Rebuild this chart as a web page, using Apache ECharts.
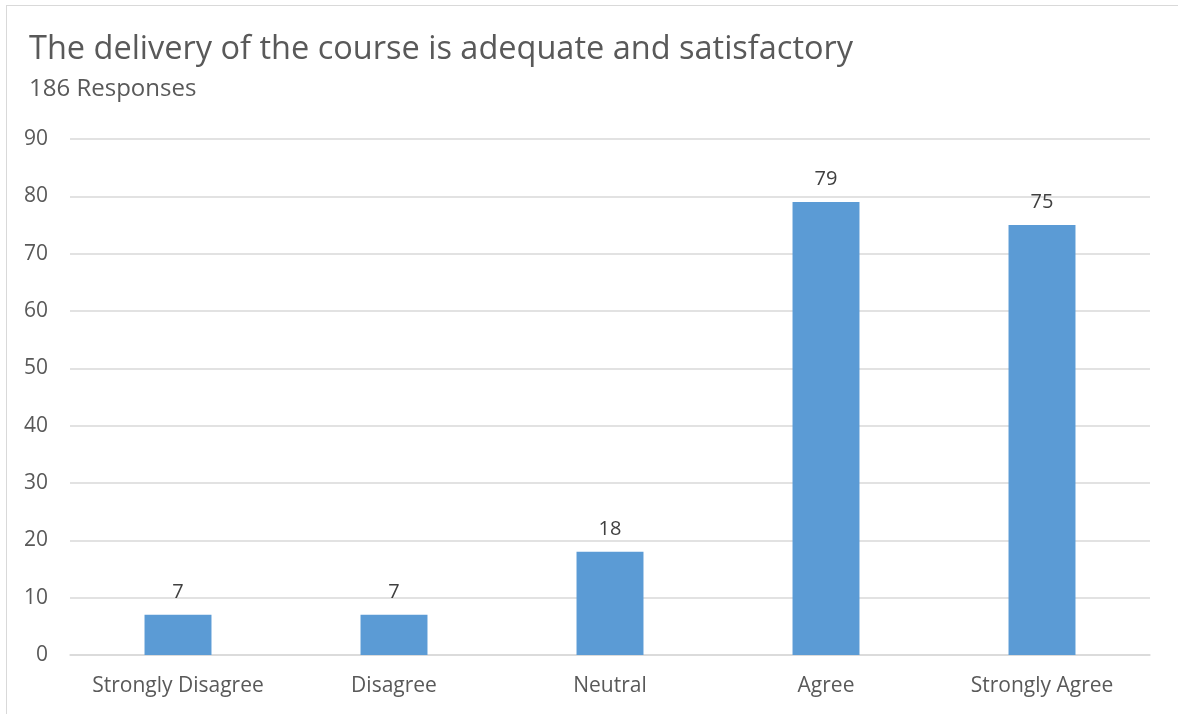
<!DOCTYPE html>
<html><head><meta charset="utf-8">
<script src="https://cdn.jsdelivr.net/npm/echarts@6/dist/echarts.min.js"></script>
<style>
html,body{margin:0;padding:0;background:#fff;}
#frame{position:absolute;left:6px;top:5px;width:1190px;height:720px;border:1px solid #d9d9d9;box-sizing:border-box;}
#c{position:absolute;left:0;top:0;width:1178px;height:714px;}
</style></head>
<body>
<div id="frame"></div>
<div id="c"></div>
<script>
const categories = ['Strongly Disagree', 'Disagree', 'Neutral', 'Agree', 'Strongly Agree'];
const values = [7, 7, 18, 79, 75];
const titleText = 'The delivery of the course is adequate and satisfactory';
const subtitleText = '186 Responses';

const chart = echarts.init(document.getElementById('c'));
const font = 'Open Sans';
chart.setOption({
  animation: false,
  title: [{
    text: titleText,
    left: 24, top: 27,
    textStyle: {fontFamily: font, fontSize: 32.5, fontWeight: 'normal', color: '#595959', lineHeight: 36}
  }, {
    text: subtitleText,
    left: 24, top: 70,
    textStyle: {fontFamily: font, fontSize: 24, fontWeight: 'normal', color: '#595959', lineHeight: 28}
  }],
  grid: {left: 70, right: 28, top: 139, bottom: 59, containLabel: false},
  xAxis: {
    type: 'category', data: categories,
    axisLine: {lineStyle: {color: '#d9d9d9', width: 1.5}},
    axisTick: {show: false},
    axisLabel: {interval: 0, fontFamily: font, fontSize: 21, color: '#595959', margin: 21}
  },
  yAxis: {
    type: 'value', min: 0, max: 90, interval: 10,
    axisLine: {show: false}, axisTick: {show: false},
    splitLine: {lineStyle: {color: '#d9d9d9', width: 1.5}},
    axisLabel: {fontFamily: font, fontSize: 21, color: '#595959', margin: 22}
  },
  series: [{
    type: 'bar', data: values, barWidth: '31%',
    itemStyle: {color: '#5b9bd5'},
    label: {show: true, position: 'top', distance: 13, fontFamily: font, fontSize: 20, color: '#404040'}
  }]
});
</script>
</body></html>
